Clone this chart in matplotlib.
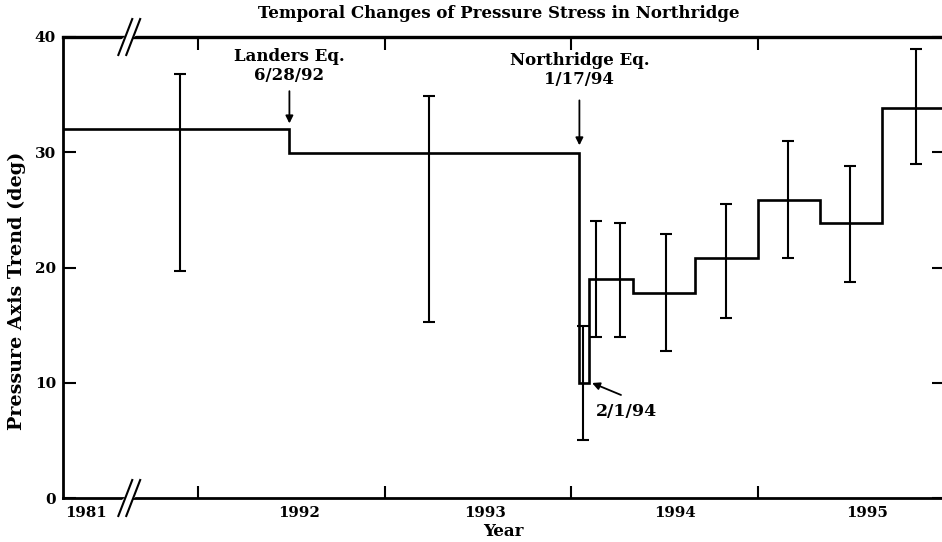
import matplotlib
matplotlib.use("Agg")
import matplotlib.pyplot as plt

plt.rcParams["font.family"] = ["DejaVu Serif"]
plt.rcParams["font.weight"] = "bold"

# step intervals in decimal years; the first interval starts in 1981 (left of the axis break)
STEP_EDGES = [1991.276, 1992.49, 1994.045, 1994.095, 1994.333, 1994.667,
              1995.0, 1995.333, 1995.667, 1996.0]
STEP_LEVELS = [32.0, 29.9, 10.0, 19.0, 17.8, 20.8, 25.9, 23.9, 33.8]

# error bars: position, centre, lower end, upper end
ERR_X = [1991.903, 1993.239, 1994.064, 1994.134, 1994.263, 1994.509,
         1994.831, 1995.164, 1995.496, 1995.850]
ERR_Y = [32.0, 29.9, 10.0, 19.0, 19.0, 17.8, 20.8, 25.9, 23.9, 33.8]
ERR_LO = [19.7, 15.3, 5.0, 14.0, 14.0, 12.75, 15.6, 20.8, 18.7, 29.0]
ERR_HI = [36.8, 34.9, 14.9, 24.0, 23.9, 22.9, 25.5, 31.0, 28.8, 39.0]

YEAR_TICKS = [1992, 1993, 1994, 1995]
YEAR_LABEL_POS = [1991.40, 1992.54, 1993.54, 1994.56, 1995.59]
YEAR_LABELS = ["1981", "1992", "1993", "1994", "1995"]
Y_TICKS = [0, 10, 20, 30, 40]

BREAK_X = 1991.61
LANDERS = 1992.49
NORTHRIDGE = 1994.045
AFTERSHOCK = 1994.095

fig = plt.figure(figsize=(9.42, 5.42), dpi=100)
ax = fig.add_axes([63 / 942, 44 / 542, 881 / 942, 461 / 542])

ax.stairs(STEP_LEVELS, STEP_EDGES, baseline=None, color="black", lw=1.9)
yerr = [[y - lo for y, lo in zip(ERR_Y, ERR_LO)],
        [hi - y for y, hi in zip(ERR_Y, ERR_HI)]]
ax.errorbar(ERR_X, ERR_Y, yerr=yerr, fmt="none", ecolor="black",
            elinewidth=1.5, capsize=4, capthick=1.5)

ax.set_xlim(STEP_EDGES[0], STEP_EDGES[-1])
ax.set_ylim(0, 40)

for side in ["left", "bottom", "top", "right"]:
    ax.spines[side].set_linewidth(2.0)
ax.spines["top"].set_linewidth(2.4)

ax.set_xticks(YEAR_LABEL_POS, YEAR_LABELS)
ax.tick_params(axis="x", which="major", length=0, pad=6, labelsize=10.8)
ax.set_xticks(YEAR_TICKS, minor=True)
ax.tick_params(axis="x", which="minor", direction="in", length=9, width=1.5,
               top=True, bottom=True)
ax.set_yticks(Y_TICKS)
ax.tick_params(axis="y", direction="in", length=9, width=1.5, left=True,
               right=True, labelsize=11, pad=5)

ax.set_xlabel("Year", fontsize=12, fontweight="bold", labelpad=2)
ax.set_ylabel("Pressure Axis Trend (deg)", fontsize=13.8, fontweight="bold")
ax.yaxis.set_label_coords(-0.042, 0.45)

fig.text(0.529, 1 - 14 / 542, "Temporal Changes of Pressure Stress in Northridge",
         ha="center", va="center", fontsize=12)

arrow = dict(arrowstyle="-|>", color="black", lw=1.3, mutation_scale=11,
             shrinkA=0, shrinkB=0)
ax.annotate("", xy=(LANDERS, 32.5), xytext=(LANDERS, 35.3), arrowprops=arrow)
ax.text(LANDERS, 35.9, "Landers Eq.\n6/28/92", ha="center", va="bottom",
        fontsize=12, linespacing=1.2)
ax.annotate("", xy=(NORTHRIDGE, 30.6), xytext=(NORTHRIDGE, 34.5), arrowprops=arrow)
ax.text(NORTHRIDGE, 35.55, "Northridge Eq.\n1/17/94", ha="center", va="bottom",
        fontsize=12, linespacing=1.2)
ax.annotate("", xy=(AFTERSHOCK + 0.018, 9.98), xytext=(1994.268, 8.94),
            arrowprops=arrow)
ax.text(1994.134, 7.5, "2/1/94", ha="left", va="center", fontsize=12.5)

# axis break marks on top and bottom spines
bx = ax.transAxes.inverted().transform(ax.transData.transform((BREAK_X, 0)))[0]
dx, dy, gap = 0.0079, 0.039, 0.009
for yb in (0.0, 1.0):
    ax.fill([bx - dx, bx + dx, bx + dx + gap, bx - dx + gap],
            [yb - dy / 3, yb + dy / 3, yb + dy / 3, yb - dy / 3],
            color="white", transform=ax.transAxes, clip_on=False, zorder=5)
    for off in (0.0, gap):
        ax.plot([bx - dx + off, bx + dx + off], [yb - dy, yb + dy],
                color="black", lw=1.5, transform=ax.transAxes, clip_on=False,
                zorder=6)

fig.savefig("out.png", dpi=100)
